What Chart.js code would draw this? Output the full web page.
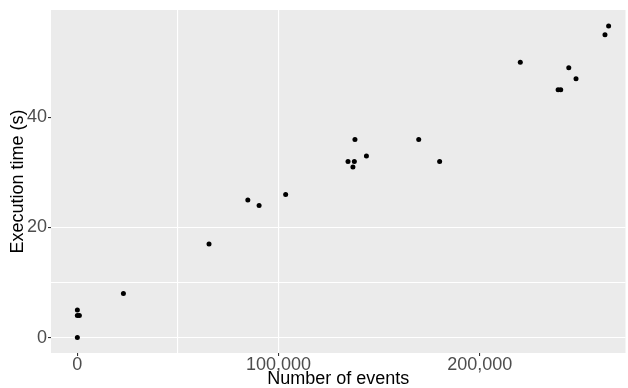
<!DOCTYPE html>
<html>
<head>
<meta charset="utf-8">
<script src="https://cdn.jsdelivr.net/npm/chart.js@4/dist/chart.umd.min.js"></script>
<style>
    html, body { margin: 0; padding: 0; background: #fff; }
    #wrap { width: 628px; height: 388px; }
</style>
</head>
<body>
<div id="wrap"><canvas id="scatter" width="628" height="388"></canvas></div>
<script>
// Data
const events = [0, 0, 1000, 0, 22900, 65450, 84750, 90350, 103550, 134550, 137700, 137000, 138000, 143700, 169700, 180100, 220200, 239000, 240300, 244300, 247900, 262300, 264100];
const execTime = [5, 4, 4, 0, 8, 17, 25, 24, 26, 32, 32, 31, 36, 33, 36, 32, 50, 45, 45, 49, 47, 55, 56.6];

// Tick positions (major + minor), labelled ticks, and the grid lines that show
const xTickValues = [0, 50000, 100000, 150000, 200000, 250000];
const yTickValues = [0, 10, 20, 30, 40, 50];
const xTicks = [0, 100000, 200000];
const yTicks = [0, 20, 40];
const xGrid = [50000, 100000];
const yGrid = [0, 10, 20];

const points = events.map((e, i) => ({ x: e, y: execTime[i] }));

const panelBg = {
    id: 'panelBg',
    beforeDraw(chart) {
        const a = chart.chartArea;
        const c = chart.ctx;
        c.save();
        c.fillStyle = '#EBEBEB';
        c.fillRect(a.left, a.top, a.right - a.left, a.bottom - a.top);
        c.restore();
    }
};

const fontFamily = '"Liberation Sans", Arial, sans-serif';

const ctx = document.getElementById('scatter').getContext('2d');
new Chart(ctx, {
    type: 'scatter',
    data: {
        datasets: [{
            data: points,
            backgroundColor: '#000',
            borderWidth: 0,
            pointRadius: 2.5,
            pointHoverRadius: 2.5
        }]
    },
    options: {
        responsive: false,
        animation: false,
        devicePixelRatio: 1,
        layout: { padding: { top: 10, right: 0, bottom: 0, left: 0 } },
        plugins: {
            legend: { display: false },
            tooltip: { enabled: false }
        },
        scales: {
            x: {
                type: 'linear',
                min: -13100,
                max: 272500,
                afterBuildTicks: s => { s.ticks = xTickValues.map(v => ({ value: v })); },
                afterFit: s => { s.height = 35; },
                border: { display: false },
                grid: {
                    color: c => xGrid.includes(c.tick.value) ? '#fff' : 'rgba(0,0,0,0)',
                    tickColor: c => xTicks.includes(c.tick.value) ? '#333333' : 'rgba(0,0,0,0)',
                    lineWidth: 1.1,
                    tickLength: 3
                },
                ticks: {
                    autoSkip: false,
                    maxRotation: 0,
                    padding: 0,
                    color: '#4D4D4D',
                    font: { family: fontFamily, size: 18, lineHeight: 1 },
                    callback: v => xTicks.includes(v) ? v.toLocaleString('en-US') : ''
                },
                title: {
                    display: true,
                    text: 'Number of events',
                    color: '#000',
                    padding: 0,
                    font: { family: fontFamily, size: 18, lineHeight: 1 }
                }
            },
            y: {
                type: 'linear',
                min: -2.8,
                max: 59.5,
                afterBuildTicks: s => { s.ticks = yTickValues.map(v => ({ value: v })); },
                afterFit: s => { s.width = 51; },
                border: { display: false },
                grid: {
                    color: c => yGrid.includes(c.tick.value) ? '#fff' : 'rgba(0,0,0,0)',
                    tickColor: c => yTicks.includes(c.tick.value) ? '#333333' : 'rgba(0,0,0,0)',
                    lineWidth: 1.1,
                    tickLength: 3
                },
                ticks: {
                    autoSkip: false,
                    padding: 1,
                    color: '#4D4D4D',
                    font: { family: fontFamily, size: 18, lineHeight: 1 },
                    callback: v => yTicks.includes(v) ? String(v) : ''
                },
                title: {
                    display: true,
                    text: 'Execution time (s)',
                    color: '#000',
                    padding: { top: 7, bottom: 0 },
                    font: { family: fontFamily, size: 18, lineHeight: 1.2 }
                }
            }
        }
    },
    plugins: [panelBg]
});
</script>
</body>
</html>
